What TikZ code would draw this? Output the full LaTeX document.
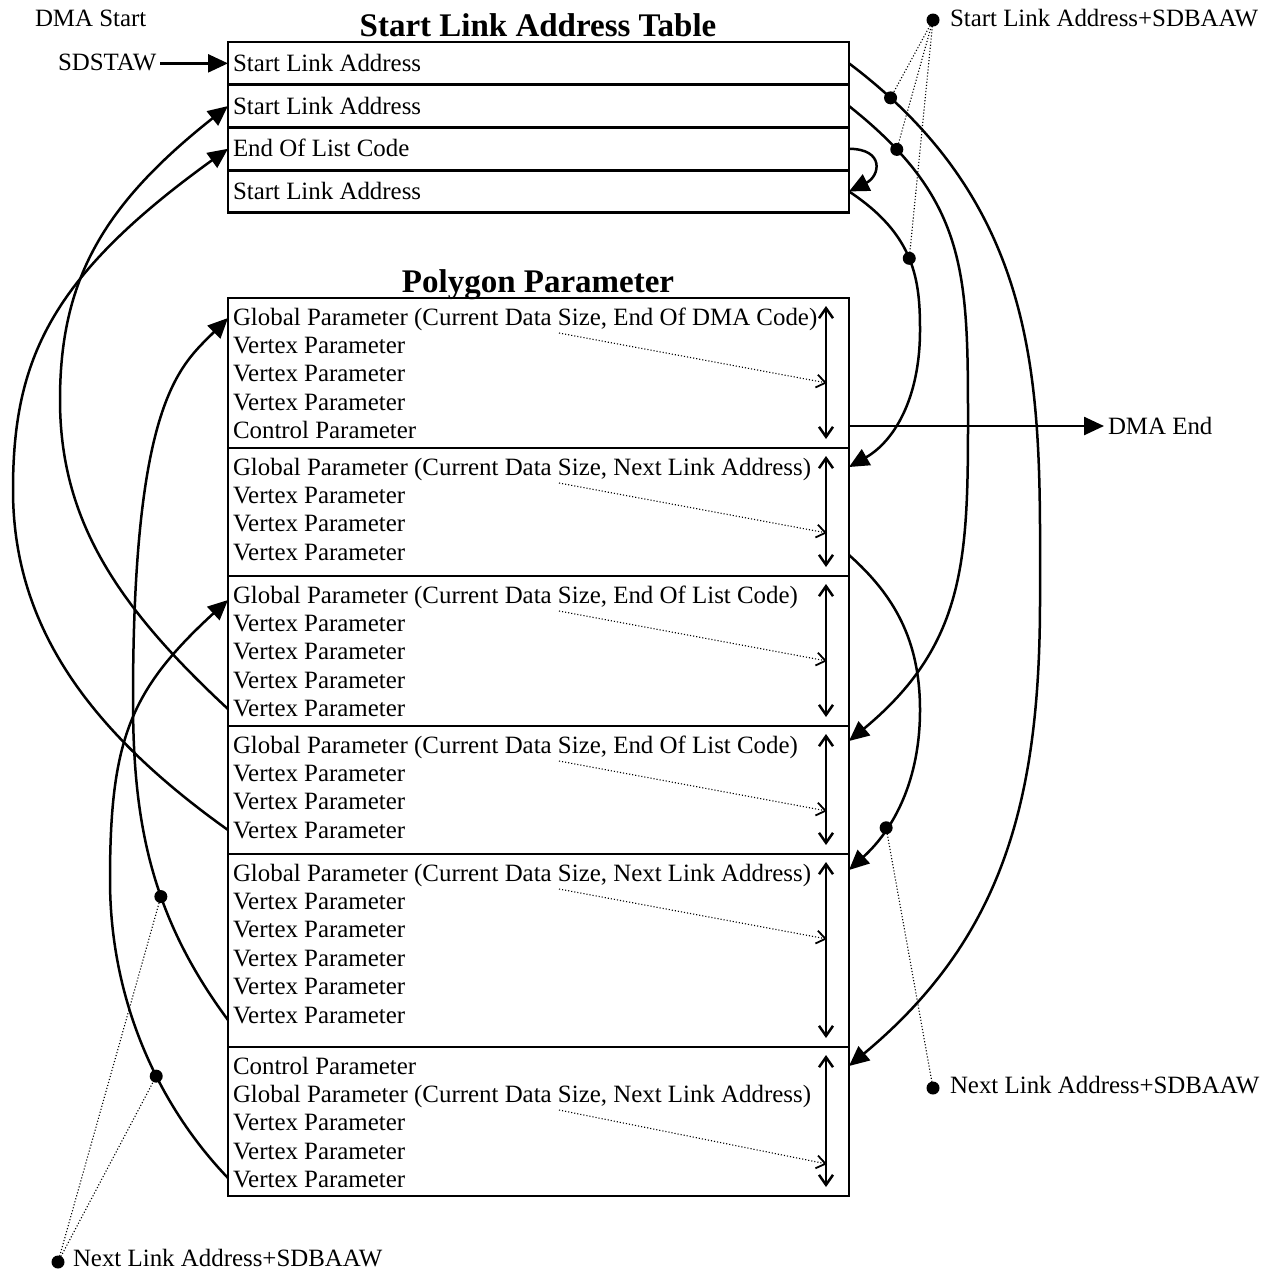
\documentclass[tikz,border=0pt]{standalone}
\usepackage{fontspec}
\setmainfont{Liberation Serif}
\usetikzlibrary{arrows.meta,calc}
\begin{document}
\begin{tikzpicture}[x=1pt,y=-1pt,
  every node/.style={inner sep=0pt,outer sep=0pt},
  txt/.style={anchor=base west,font=\fontsize{24.9}{28}\selectfont},
  ttl/.style={anchor=base,font=\fontsize{33}{36}\selectfont\bfseries},
  cell/.style={draw,line width=2.8pt,minimum width=621pt,anchor=north west},
  link/.style={line width=2.5pt,arrows={-Triangle[length=20pt,width=18pt]}},
  span/.style={line width=2.5pt,arrows={Straight Barb[length=10pt,width=14pt]-Straight Barb[length=10pt,width=14pt]}},
  dotarrow/.style={line width=1.1pt,dotted,arrows={-Straight Barb[length=9pt,width=13pt,line width=1.8pt]}},
  dotline/.style={line width=1.1pt,dotted},
  bullet/.style={circle,fill=black,minimum size=13pt},
]
\useasboundingbox (0,0) rectangle (1276,1270);

% ---------- Start Link Address Table ----------
\node[ttl] (ttlA) at (538,36) {Start Link Address Table};
\node[cell,minimum height=42.7pt] (r1) at (228,42) {};
\node[cell,minimum height=42.7pt] (r2) at (228,84.7) {};
\node[cell,minimum height=42.7pt] (r3) at (228,127.4) {};
\node[cell,minimum height=42.7pt] (r4) at (228,170.1) {};
\node[txt] (r1t) at ($(r1.west)+(5,8)$) {Start Link Address};
\node[txt] (r2t) at ($(r2.west)+(5,8)$) {Start Link Address};
\node[txt] (r3t) at ($(r3.west)+(5,8)$) {End Of List Code};
\node[txt] (r4t) at ($(r4.west)+(5,8)$) {Start Link Address};

% ---------- Polygon Parameter ----------
\node[ttl] (ttlB) at (538,292) {Polygon Parameter};
\node[cell,minimum height=150pt] (s1) at (228,298) {};
\node[cell,minimum height=128pt] (s2) at (228,448) {};
\node[cell,minimum height=150pt] (s3) at (228,576) {};
\node[cell,minimum height=128pt] (s4) at (228,726) {};
\node[cell,minimum height=193pt] (s5) at (228,854) {};
\node[cell,minimum height=149pt] (s6) at (228,1047) {};

\foreach \t [count=\i] in {{Global Parameter (Current Data Size, End Of DMA Code)},Vertex Parameter,Vertex Parameter,Vertex Parameter,Control Parameter}
  \node[txt] (s1l\i) at ($(s1.north west)+(5,{27+(\i-1)*28.4})$) {\t};
\foreach \t [count=\i] in {{Global Parameter (Current Data Size, Next Link Address)},Vertex Parameter,Vertex Parameter,Vertex Parameter}
  \node[txt] (s2l\i) at ($(s2.north west)+(5,{27+(\i-1)*28.4})$) {\t};
\foreach \t [count=\i] in {{Global Parameter (Current Data Size, End Of List Code)},Vertex Parameter,Vertex Parameter,Vertex Parameter,Vertex Parameter}
  \node[txt] (s3l\i) at ($(s3.north west)+(5,{27+(\i-1)*28.4})$) {\t};
\foreach \t [count=\i] in {{Global Parameter (Current Data Size, End Of List Code)},Vertex Parameter,Vertex Parameter,Vertex Parameter}
  \node[txt] (s4l\i) at ($(s4.north west)+(5,{27+(\i-1)*28.4})$) {\t};
\foreach \t [count=\i] in {{Global Parameter (Current Data Size, Next Link Address)},Vertex Parameter,Vertex Parameter,Vertex Parameter,Vertex Parameter,Vertex Parameter}
  \node[txt] (s5l\i) at ($(s5.north west)+(5,{27+(\i-1)*28.4})$) {\t};
\foreach \t [count=\i] in {Control Parameter,{Global Parameter (Current Data Size, Next Link Address)},Vertex Parameter,Vertex Parameter,Vertex Parameter}
  \node[txt] (s6l\i) at ($(s6.north west)+(5,{27+(\i-1)*28.4})$) {\t};

% size spans and dotted pointers
\foreach \s in {s1,s2,s3,s4,s5,s6}
  \draw[span] ($(\s.north east)+(-23,8)$) -- ($(\s.south east)+(-23,-9)$);
\foreach \s in {s1,s2,s3,s4,s5}
  \draw[dotarrow] ($(\s.north west)+(331,35)$) -- ($(\s.north east)+(-22,85)$);
\draw[dotarrow] ($(s6.north west)+(331,63)$) -- ($(s6.north east)+(-22,117)$);

% ---------- labels ----------
\node[txt] (dmastart) at (35,26) {DMA Start};
\node[txt] (sdstaw) at (58,70) {SDSTAW};
\node[txt] (dmaend) at (1108,434) {DMA End};
\node[txt] (slabel) at (950,26) {Start Link Address+SDBAAW};
\node[txt] (nlabelR) at (950,1093) {Next Link Address+SDBAAW};
\node[txt] (nlabelL) at (73,1266) {Next Link Address+SDBAAW};
\node[bullet] (sdot) at (933,20) {};
\node[bullet] (ndotR) at (933,1088) {};
\node[bullet] (ndotL) at (58,1262) {};

% ---------- connectors ----------
\draw[link] ([xshift=4pt]sdstaw.east |- r1.west) -- (r1.west);
\coordinate (deS) at ($(s1.south east)+(0,-22)$);
\coordinate (deE) at ($(dmaend.west)+(-4,0)$);
\draw[link] (deS) -- (deS -| deE);

\draw[link] (r1.east) .. controls (1049,214) and (1040,400) .. (1040,600) node[bullet,pos=0.075] (d1) {}
  .. controls (1040,800) and (1003,938) .. ($(s6.north east)+(0,19)$);
\draw[link] (r2.east) .. controls (966,199) and (968,270) .. (968,420) node[bullet,pos=0.16] (d2) {}
  .. controls (968,560) and (965,645) .. ($(s4.north east)+(0,15)$);
\draw[link] (r3.east) .. controls (885,149) and (880,176) .. (r4.east);
\draw[link] (r4.east) .. controls (915,235) and (920,280) .. (920,330) node[bullet,pos=0.5] (d4) {}
  .. controls (920,400) and (893,442) .. ($(s2.north east)+(0,19)$);
\draw[link] ($(s2.south east)+(0,-21)$) .. controls (894,595) and (920,640) .. (920,710)
  .. controls (920,780) and (894,829) .. ($(s5.north east)+(0,16)$) node[bullet,pos=0.68] (d5) {};

\draw[link] ($(s3.south west)+(0,-17)$) .. controls (117,606) and (60,520) .. (60,400)
  .. controls (60,280) and (103,205) .. (r2.west);
\draw[link] ($(s4.south west)+(0,-24)$) .. controls (82,726) and (13,620) .. (13,490)
  .. controls (13,360) and (50,277) .. (r3.west);
\draw[link] ($(s5.south west)+(0,-27)$) .. controls (150,915) and (133,820) .. (133,700) node[bullet,pos=0.4] (d6) {}
  .. controls (133,400) and (180,366) .. ($(s1.north west)+(0,20)$);
\draw[link] ($(s6.south west)+(0,-18)$) .. controls (158,1105) and (110,1000) .. (110,880) node[bullet,pos=0.4] (d7) {}
  .. controls (110,740) and (130,690) .. ($(s3.north west)+(0,24)$);

% dotted leaders
\draw[dotline] (sdot.center) -- (d1.center);
\draw[dotline] (sdot.center) -- (d2.center);
\draw[dotline] (sdot.center) -- (d4.center);
\draw[dotline] (ndotR.center) -- (d5.center);
\draw[dotline] (ndotL.center) -- (d6.center);
\draw[dotline] (ndotL.center) -- (d7.center);
\end{tikzpicture}
\end{document}
